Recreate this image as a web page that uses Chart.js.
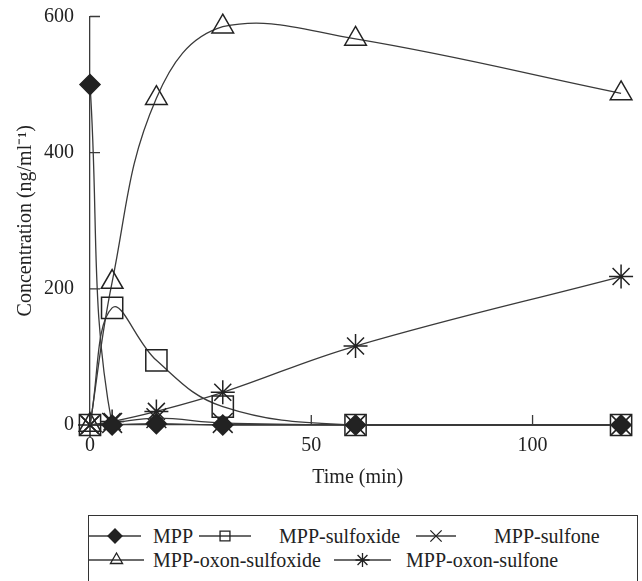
<!DOCTYPE html>
<html>
<head>
<meta charset="utf-8">
<script src="https://cdn.jsdelivr.net/npm/chart.js@4"></script>
<style>
  html, body { margin: 0; padding: 0; background: #fff; }
  body { width: 642px; height: 581px; position: relative; overflow: hidden; font-family: 'Liberation Serif', 'Times New Roman', serif; color: #222; }
  #plot { position: absolute; left: 0; top: 0; }
  #legend { position: absolute; left: 88px; top: 515px; width: 550px; height: 80px; border: 1.3px solid #333; box-sizing: border-box; }
  .sym { position: absolute; display: block; }
  .txt { position: absolute; font-size: 20px; line-height: 24px; white-space: nowrap; }
</style>
</head>
<body>
<canvas id="plot" width="642" height="505"></canvas>
<div id="legend"></div>
<script>
// sampling times (min)
const times = [0, 5, 15, 30, 60, 120];

// concentrations (ng/ml)
const mpp = [500, 0, 2, 0, 0, 0];
const mppSulfoxide = [0, 172, 95, 27, 0, 0];
const mppSulfone = [0, 3, 10, 3, 0, 0];
const oxonSulfoxide = [0, 210, 480, 585, 567, 487];
const oxonSulfone = [0, 5, 20, 48, 116, 218];

const seriesNames = ['MPP', 'MPP-sulfoxide', 'MPP-sulfone', 'MPP-oxon-sulfoxide', 'MPP-oxon-sulfone'];
const seriesValues = [mpp, mppSulfoxide, mppSulfone, oxonSulfoxide, oxonSulfone];

const xTicks = [0, 50, 100];
const yTicks = [0, 200, 400, 600];

const ink = '#222';
const lineColor = '#3a3a3a';

const markers = [
  { style: 'rectRot', radius: 10, fill: ink },
  { style: 'rect', radius: 15, fill: 'rgba(0,0,0,0)' },
  { style: 'crossRot', radius: 14, fill: 'rgba(0,0,0,0)' },
  { style: 'triangle', radius: 12.5, fill: 'rgba(0,0,0,0)' },
  { style: 'star', radius: 12, fill: 'rgba(0,0,0,0)' },
];

// legend slots: symbol box and label position, per row
const legendSlots = [
  { row: 0, symLeft: 0, symWidth: 52, r: 7, textLeft: 64 },
  { row: 0, symLeft: 110, symWidth: 52, r: 7, textLeft: 190 },
  { row: 0, symLeft: 327, symWidth: 40, r: 8, textLeft: 405 },
  { row: 1, symLeft: 0, symWidth: 55, r: 7, textLeft: 64 },
  { row: 1, symLeft: 245, symWidth: 57, r: 7, textLeft: 317 },
];

Chart.defaults.font.family = "'Liberation Serif', 'Times New Roman', serif";
Chart.defaults.color = ink;

// tick marks pointing into the plot area
const inwardTicks = {
  id: 'inwardTicks',
  afterDraw(chart) {
    const { ctx, chartArea, scales } = chart;
    ctx.save();
    ctx.strokeStyle = lineColor;
    ctx.lineWidth = 1.3;
    ctx.beginPath();
    xTicks.filter(v => v !== 0).forEach(v => {
      const px = scales.x.getPixelForValue(v);
      ctx.moveTo(px, chartArea.bottom);
      ctx.lineTo(px, chartArea.bottom - 10);
    });
    yTicks.filter(v => v !== 0).forEach(v => {
      const py = scales.y.getPixelForValue(v);
      ctx.moveTo(chartArea.left, py);
      ctx.lineTo(chartArea.left + 10, py);
    });
    ctx.stroke();
    ctx.restore();
  },
};

const chart = new Chart(document.getElementById('plot'), {
  type: 'line',
  data: {
    datasets: seriesNames.map((name, i) => ({
      label: name,
      data: times.map((t, j) => ({ x: t, y: seriesValues[i][j] })),
      borderColor: lineColor,
      borderWidth: 1.3,
      tension: 0.4,
      fill: false,
      clip: false,
      pointStyle: markers[i].style,
      pointRadius: markers[i].radius,
      pointBackgroundColor: markers[i].fill,
      pointBorderColor: ink,
      pointBorderWidth: 1.5,
    })),
  },
  options: {
    responsive: false,
    animation: false,
    events: [],
    layout: { padding: { top: 16, right: 10, bottom: 0, left: 0 } },
    plugins: {
      legend: { display: false },
      tooltip: { enabled: false },
    },
    scales: {
      x: {
        type: 'linear',
        min: 0,
        max: 121,
        afterBuildTicks: scale => { scale.ticks = xTicks.map(v => ({ value: v })); },
        afterFit: scale => { scale.height = 80; },
        grid: { display: false, drawTicks: false },
        border: { display: true, color: lineColor, width: 1.3 },
        ticks: { padding: 9, font: { size: 20 }, color: ink, maxRotation: 0 },
        title: { display: true, text: 'Time (min)', font: { size: 20 }, color: ink, padding: { top: 0, bottom: 15 } },
      },
      y: {
        type: 'linear',
        min: 0,
        max: 600,
        afterBuildTicks: scale => { scale.ticks = yTicks.map(v => ({ value: v })); },
        afterFit: scale => {
          scale.width = 90;
          scale.paddingTop = 0;
          scale.paddingBottom = 0;
        },
        grid: { display: false, drawTicks: false },
        border: { display: true, color: lineColor, width: 1.3 },
        ticks: { padding: 16, font: { size: 20 }, color: ink },
        title: { display: true, text: 'Concentration (ng/ml\u207B\u00B9)', font: { size: 20 }, color: ink, padding: { top: 14, bottom: 0 } },
      },
    },
  },
  plugins: [inwardTicks],
});

// legend: line with marker drawn by the Chart.js point helper
const legend = document.getElementById('legend');
const rowCenters = [20, 44];
seriesNames.forEach((name, i) => {
  const slot = legendSlots[i];
  const h = 24;
  const cv = document.createElement('canvas');
  cv.width = slot.symWidth;
  cv.height = h;
  cv.className = 'sym';
  cv.style.left = slot.symLeft + 'px';
  cv.style.top = (rowCenters[slot.row] - h / 2) + 'px';
  const c = cv.getContext('2d');
  c.strokeStyle = lineColor;
  c.lineWidth = 1.3;
  c.beginPath();
  c.moveTo(0, h / 2);
  c.lineTo(slot.symWidth, h / 2);
  c.stroke();
  c.strokeStyle = ink;
  c.fillStyle = markers[i].fill;
  c.lineWidth = 1.3;
  Chart.helpers.drawPoint(c, { pointStyle: markers[i].style, radius: slot.r, rotation: 0, borderWidth: 1.3 }, slot.symWidth / 2, h / 2);
  legend.appendChild(cv);

  const tx = document.createElement('div');
  tx.className = 'txt';
  tx.textContent = name;
  tx.style.left = slot.textLeft + 'px';
  tx.style.top = (rowCenters[slot.row] - 12) + 'px';
  legend.appendChild(tx);
});
</script>
</body>
</html>
